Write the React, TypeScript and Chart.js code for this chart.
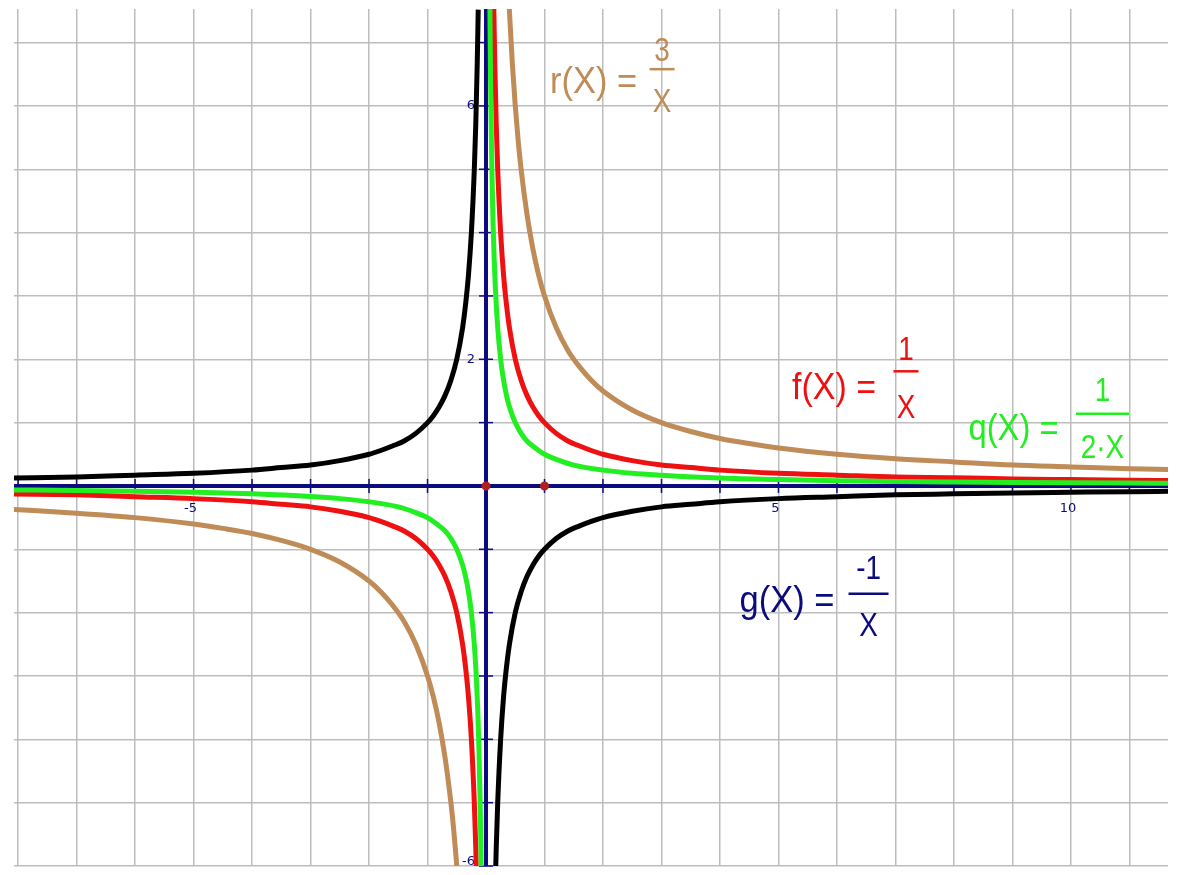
import React, { useEffect, useRef } from "react";
import { Chart, registerables } from "chart.js";

Chart.register(...registerables);

// ---- axis ranges ----
const X_MIN = -8.07;
const X_MAX = 11.66;
const Y_MIN = -6;
const Y_MAX = 7.53;

// ---- tick labels shown next to the axes ----
const xTickLabels = [-5, 5, 10];
const yTickLabels = [6, 2, -6];

// ---- r(x) = 3/x (brown) ----
const rRightX = [0.38, 0.4, 0.45, 0.5, 0.55, 0.6, 0.7, 0.8, 0.9, 1, 1.2, 1.4, 1.6, 1.8, 2, 2.5, 3, 3.5, 4, 4.5, 5, 6, 7, 8, 9, 10, 11, 11.7];
const rRightY = [7.9, 7.5, 6.67, 6, 5.45, 5, 4.29, 3.75, 3.33, 3, 2.5, 2.14, 1.88, 1.67, 1.5, 1.2, 1, 0.86, 0.75, 0.67, 0.6, 0.5, 0.43, 0.38, 0.33, 0.3, 0.27, 0.26];
const rLeftX = [-8.1, -7, -6, -5, -4.5, -4, -3.5, -3, -2.5, -2, -1.8, -1.6, -1.4, -1.2, -1, -0.9, -0.8, -0.7, -0.6, -0.55, -0.5];
const rLeftY = [-0.37, -0.43, -0.5, -0.6, -0.67, -0.75, -0.86, -1, -1.2, -1.5, -1.67, -1.88, -2.14, -2.5, -3, -3.33, -3.75, -4.29, -5, -5.45, -6];

// ---- f(x) = 1/x (red) ----
const fRightX = [0.125, 0.15, 0.175, 0.2, 0.25, 0.3, 0.35, 0.4, 0.5, 0.6, 0.7, 0.8, 0.9, 1, 1.2, 1.4, 1.6, 1.8, 2, 2.5, 3, 3.5, 4, 5, 6, 7, 8, 9, 10, 11, 11.7];
const fRightY = [8, 6.67, 5.71, 5, 4, 3.33, 2.86, 2.5, 2, 1.67, 1.43, 1.25, 1.11, 1, 0.83, 0.71, 0.63, 0.56, 0.5, 0.4, 0.33, 0.29, 0.25, 0.2, 0.17, 0.14, 0.13, 0.11, 0.1, 0.09, 0.085];
const fLeftX = [-8.1, -7, -6, -5, -4, -3.5, -3, -2.5, -2, -1.8, -1.6, -1.4, -1.2, -1, -0.9, -0.8, -0.7, -0.6, -0.5, -0.4, -0.35, -0.3, -0.25, -0.2, -0.175, -0.16];
const fLeftY = [-0.125, -0.14, -0.17, -0.2, -0.25, -0.29, -0.33, -0.4, -0.5, -0.56, -0.63, -0.71, -0.83, -1, -1.11, -1.25, -1.43, -1.67, -2, -2.5, -2.86, -3.33, -4, -5, -5.71, -6.25];

// ---- q(x) = 1/(2x) (green) ----
const qRightX = [0.066, 0.075, 0.085, 0.1, 0.12, 0.14, 0.16, 0.18, 0.2, 0.25, 0.3, 0.35, 0.4, 0.5, 0.6, 0.7, 0.8, 0.9, 1, 1.2, 1.5, 2, 2.5, 3, 4, 5, 6, 7, 8, 9, 10, 11, 11.7];
const qRightY = [7.58, 6.67, 5.88, 5, 4.17, 3.57, 3.13, 2.78, 2.5, 2, 1.67, 1.43, 1.25, 1, 0.83, 0.71, 0.63, 0.56, 0.5, 0.42, 0.33, 0.25, 0.2, 0.17, 0.125, 0.1, 0.083, 0.071, 0.063, 0.056, 0.05, 0.045, 0.043];
const qLeftX = [-8.1, -7, -6, -5, -4, -3, -2.5, -2, -1.5, -1.2, -1, -0.9, -0.8, -0.7, -0.6, -0.5, -0.4, -0.35, -0.3, -0.25, -0.2, -0.16, -0.14, -0.12, -0.1, -0.09, -0.083];
const qLeftY = [-0.062, -0.071, -0.083, -0.1, -0.125, -0.167, -0.2, -0.25, -0.33, -0.42, -0.5, -0.56, -0.63, -0.71, -0.83, -1, -1.25, -1.43, -1.67, -2, -2.5, -3.13, -3.57, -4.17, -5, -5.56, -6.02];

// ---- g(x) = -1/x (black) ----
const gLeftX = [-8.1, -7, -6, -5, -4, -3.5, -3, -2.5, -2, -1.8, -1.6, -1.4, -1.2, -1, -0.9, -0.8, -0.7, -0.6, -0.5, -0.4, -0.35, -0.3, -0.25, -0.2, -0.175, -0.15, -0.133];
const gLeftY = [0.125, 0.14, 0.17, 0.2, 0.25, 0.29, 0.33, 0.4, 0.5, 0.56, 0.63, 0.71, 0.83, 1, 1.11, 1.25, 1.43, 1.67, 2, 2.5, 2.86, 3.33, 4, 5, 5.71, 6.67, 7.52];
const gRightX = [0.165, 0.175, 0.2, 0.25, 0.3, 0.35, 0.4, 0.5, 0.6, 0.7, 0.8, 0.9, 1, 1.2, 1.4, 1.6, 1.8, 2, 2.5, 3, 3.5, 4, 5, 6, 7, 8, 9, 10, 11, 11.7];
const gRightY = [-6.06, -5.71, -5, -4, -3.33, -2.86, -2.5, -2, -1.67, -1.43, -1.25, -1.11, -1, -0.83, -0.71, -0.63, -0.56, -0.5, -0.4, -0.33, -0.29, -0.25, -0.2, -0.17, -0.14, -0.125, -0.11, -0.1, -0.09, -0.085];

// ---- axes lines & marked points ----
const axisXLineX = [X_MIN, X_MAX];
const axisXLineY = [0, 0];
const axisYLineX = [0, 0];
const axisYLineY = [Y_MIN, Y_MAX];
const markedX = [0, 1];
const markedY = [0, 0];

// ---- styles ----
const BROWN = "#BF8B57";
const RED = "#EE1111";
const GREEN = "#22EE22";
const BLACK = "#000000";
const NAVY = "#0B0B7E";
const GRID = "#bdbdbd";

// ---- function labels (anchor = centre of fraction bar, in data units) ----
type Lbl = {
  lhs: string; num: string; den: string; color: string;
  ax: number; ay: number;
  lhsL: number; lhsR: number; lhsB: number;
  numB: number; denB: number; half: number;
};
const funcLabels: Lbl[] = [
  { lhs: "r(X) =", num: "3", den: "X", color: BROWN, ax: 3.01, ay: 6.58, lhsL: -112, lhsR: -25, lhsB: 24, numB: -8, denB: 43, half: 12.5 },
  { lhs: "f(X) =", num: "1", den: "X", color: RED, ax: 7.18, ay: 1.81, lhsL: -114, lhsR: -30, lhsB: 28, numB: -11, denB: 47, half: 12.5 },
  { lhs: "q(X) =", num: "1", den: "2·X", color: GREEN, ax: 10.54, ay: 1.14, lhsL: -134, lhsR: -44, lhsB: 26, numB: -13, denB: 44, half: 26.5 },
  { lhs: "g(X) =", num: "-1", den: "X", color: NAVY, ax: 6.54, ay: -1.7, lhsL: -129, lhsR: -34, lhsB: 18, numB: -15, denB: 42, half: 20 },
];

const pts = (xs: number[], ys: number[]) => xs.map((x, i) => ({ x, y: ys[i] }));

const curve = (data: any[], color: string) => ({
  data,
  showLine: true,
  borderColor: color,
  backgroundColor: color,
  borderWidth: 5,
  pointRadius: 0,
  fill: false,
  tension: 0,
  cubicInterpolationMode: "monotone",
  clip: 0,
  order: 1,
});

const FONT = '"Liberation Sans", Arial, sans-serif';

const integerTicks = (axis: any) => {
  const out: any[] = [];
  for (let v = Math.ceil(axis.min); v <= Math.floor(axis.max); v++) out.push({ value: v });
  axis.ticks = out;
};

const drawPlugin = {
  id: "hyperbolaDecor",
  beforeDatasetsDraw(chart: any) {
    const ctx = chart.ctx;
    const xs = chart.scales.x;
    const ys = chart.scales.y;
    const x0 = xs.getPixelForValue(0);
    const y0 = ys.getPixelForValue(0);
    ctx.save();
    ctx.strokeStyle = NAVY;
    ctx.lineWidth = 1.5;
    for (let v = Math.ceil(X_MIN); v <= Math.floor(X_MAX); v++) {
      if (v === 0) continue;
      const px = xs.getPixelForValue(v);
      ctx.beginPath();
      ctx.moveTo(px, y0 - 7);
      ctx.lineTo(px, y0 + 7);
      ctx.stroke();
    }
    for (let v = Math.ceil(Y_MIN); v <= Math.floor(Y_MAX); v++) {
      if (v === 0) continue;
      const py = ys.getPixelForValue(v);
      ctx.beginPath();
      ctx.moveTo(x0 - 7, py);
      ctx.lineTo(x0 + 7, py);
      ctx.stroke();
    }
    ctx.fillStyle = NAVY;
    ctx.font = '13px "DejaVu Sans", sans-serif';
    ctx.textAlign = "center";
    ctx.textBaseline = "middle";
    xTickLabels.forEach((v) => {
      ctx.fillText(String(v), xs.getPixelForValue(v) - 3, y0 + 23);
    });
    ctx.textAlign = "right";
    yTickLabels.forEach((v) => {
      ctx.fillText(String(v), x0 - 11, ys.getPixelForValue(v) - (v < 0 ? 4 : 0));
    });
    ctx.restore();
  },
  afterDatasetsDraw(chart: any) {
    const ctx = chart.ctx;
    const xs = chart.scales.x;
    const ys = chart.scales.y;
    funcLabels.forEach((l) => {
      const cx = xs.getPixelForValue(l.ax);
      const cy = ys.getPixelForValue(l.ay);
      ctx.save();
      ctx.fillStyle = l.color;
      ctx.strokeStyle = l.color;
      ctx.textBaseline = "alphabetic";
      ctx.font = `36px ${FONT}`;
      ctx.textAlign = "left";
      const w = ctx.measureText(l.lhs).width;
      ctx.save();
      ctx.translate(cx + l.lhsL, cy + l.lhsB);
      ctx.scale((l.lhsR - l.lhsL) / w, 1);
      ctx.fillText(l.lhs, 0, 0);
      ctx.restore();
      ctx.font = `34px ${FONT}`;
      ctx.textAlign = "center";
      ctx.save();
      ctx.translate(cx, cy + l.numB);
      ctx.scale(0.82, 1);
      ctx.fillText(l.num, 0, 0);
      ctx.restore();
      ctx.save();
      ctx.translate(cx, cy + l.denB);
      ctx.scale(0.82, 1);
      ctx.fillText(l.den, 0, 0);
      ctx.restore();
      ctx.lineWidth = 2.5;
      ctx.beginPath();
      ctx.moveTo(cx - l.half, cy);
      ctx.lineTo(cx + l.half, cy);
      ctx.stroke();
      ctx.restore();
    });
  },
};

export default function App() {
  const ref = useRef<HTMLCanvasElement | null>(null);
  useEffect(() => {
    if (!ref.current) return;
    const chart = new Chart(ref.current, {
      type: "scatter",
      data: {
        datasets: [
          { ...curve(pts(markedX, markedY), "#B02020"), showLine: false, pointRadius: 2, order: 0 },
          curve(pts(gLeftX, gLeftY), BLACK),
          curve(pts(gRightX, gRightY), BLACK),
          curve(pts(qLeftX, qLeftY), GREEN),
          curve(pts(qRightX, qRightY), GREEN),
          curve(pts(fLeftX, fLeftY), RED),
          curve(pts(fRightX, fRightY), RED),
          curve(pts(rLeftX, rLeftY), BROWN),
          curve(pts(rRightX, rRightY), BROWN),
          { ...curve(pts(axisXLineX, axisXLineY), NAVY), borderWidth: 4, order: 5 },
          { ...curve(pts(axisYLineX, axisYLineY), NAVY), borderWidth: 4, order: 5 },
        ] as any,
      },
      options: {
        animation: false,
        responsive: false,
        maintainAspectRatio: false,
        events: [],
        layout: { padding: { left: 14, top: 7, right: 7, bottom: 2 } },
        plugins: { legend: { display: false }, tooltip: { enabled: false }, title: { display: false } },
        scales: {
          x: {
            type: "linear",
            min: X_MIN,
            max: X_MAX,
            ticks: { display: false, stepSize: 1, padding: 0 },
            afterBuildTicks: integerTicks,
            afterFit: (s: any) => { s.height = 0; },
            grid: { color: GRID, lineWidth: 1.5, drawTicks: false },
            border: { display: false },
          },
          y: {
            type: "linear",
            min: Y_MIN,
            max: Y_MAX,
            ticks: { display: false, stepSize: 1, padding: 0 },
            afterBuildTicks: integerTicks,
            afterFit: (s: any) => { s.width = 0; },
            grid: { color: GRID, lineWidth: 1.5, drawTicks: false },
            border: { display: false },
          },
        },
      } as any,
      plugins: [drawPlugin],
    });
    return () => chart.destroy();
  }, []);
  return (
    <div style={{ position: "fixed", left: 0, top: 0, width: 1177, height: 875, background: "#fff" }}>
      <canvas ref={ref} width={1177} height={875} style={{ display: "block" }} />
    </div>
  );
}
